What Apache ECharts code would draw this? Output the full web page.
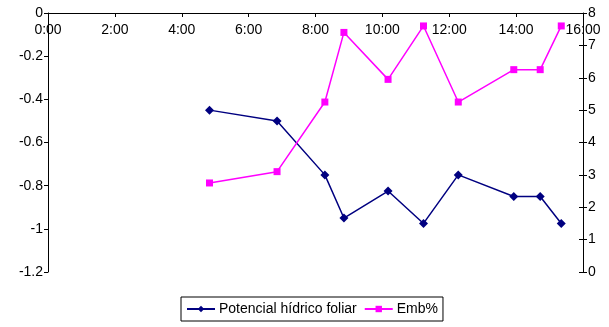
<!DOCTYPE html>
<html><head><meta charset="utf-8">
<script src="https://cdn.jsdelivr.net/npm/echarts@6/dist/echarts.min.js"></script>
<style>html,body{margin:0;padding:0;background:#fff}#c{width:609px;height:327px}</style>
</head><body><div id="c"></div>
<script>
// time of day in hours
const times = [4.83, 6.85, 8.28, 8.85, 10.17, 11.23, 12.27, 13.93, 14.72, 15.35];
const potencial = [-0.45, -0.5, -0.75, -0.95, -0.825, -0.975, -0.75, -0.85, -0.85, -0.975];
const emb = [2.75, 3.1, 5.25, 7.4, 5.95, 7.6, 5.25, 6.25, 6.25, 7.6];
const xTicks = ['0:00','2:00','4:00','6:00','8:00','10:00','12:00','14:00','16:00'];
const seriesNames = ['Potencial hídrico foliar', 'Emb%'];

const FONT = 'Liberation Sans, Arial, sans-serif';
const chart = echarts.init(document.getElementById('c'));
chart.setOption({
  animation: false,
  grid: {left: 48, right: 26, top: 13, height: 259},
  legend: {
    left: 181, top: 297, orient: 'horizontal',
    borderColor: '#000', borderWidth: 1, borderRadius: 0,
    padding: [5, 5, 5, 5], itemGap: 7, itemWidth: 28, itemHeight: 8,
    textStyle: {fontFamily: FONT, fontSize: 14, color: '#000', padding: [0,0,0,-1]},
    data: seriesNames
  },
  xAxis: {
    type: 'value', position: 'top', min: 0, max: 16, interval: 2,
    axisLine: {show: true, onZero: false, lineStyle: {color: '#000', width: 1}},
    axisTick: {show: true, inside: true, length: 4, lineStyle: {color: '#000'}},
    axisLabel: {inside: true, margin: 10, fontFamily: FONT, fontSize: 14, color: '#000',
      formatter: v => xTicks[Math.round(v/2)]},
    splitLine: {show: false}
  },
  yAxis: [{
    type: 'value', min: -1.2, max: 0, interval: 0.2, position: 'left',
    axisLine: {show: true, lineStyle: {color: '#000', width: 1}},
    axisTick: {show: true, inside: false, length: 4, lineStyle: {color: '#000'}},
    axisLabel: {margin: 5, fontFamily: FONT, fontSize: 14, color: '#000',
      formatter: v => String(Math.round(v*10)/10)},
    splitLine: {show: false}
  }, {
    type: 'value', min: 0, max: 8, interval: 1, position: 'right',
    axisLine: {show: true, lineStyle: {color: '#000', width: 1}},
    axisTick: {show: true, inside: false, length: 4, lineStyle: {color: '#000'}},
    axisLabel: {margin: 5, fontFamily: FONT, fontSize: 14, color: '#000'},
    splitLine: {show: false}
  }, {
    type: 'value', min: 0, max: 8, interval: 1, position: 'right',
    axisLine: {show: false},
    axisTick: {show: true, inside: true, length: 4, lineStyle: {color: '#000'}},
    axisLabel: {show: false},
    splitLine: {show: false}
  }],
  series: [{
    name: seriesNames[0], type: 'line', yAxisIndex: 0,
    data: times.map((t, i) => [t, potencial[i]]),
    symbol: 'diamond', symbolSize: 9,
    lineStyle: {color: '#000080', width: 1.5},
    itemStyle: {color: '#000080'}
  }, {
    name: seriesNames[1], type: 'line', yAxisIndex: 1,
    data: times.map((t, i) => [t, emb[i]]),
    symbol: 'rect', symbolSize: 7,
    lineStyle: {color: '#FF00FF', width: 1.5},
    itemStyle: {color: '#FF00FF'}
  }]
});
</script></body></html>
